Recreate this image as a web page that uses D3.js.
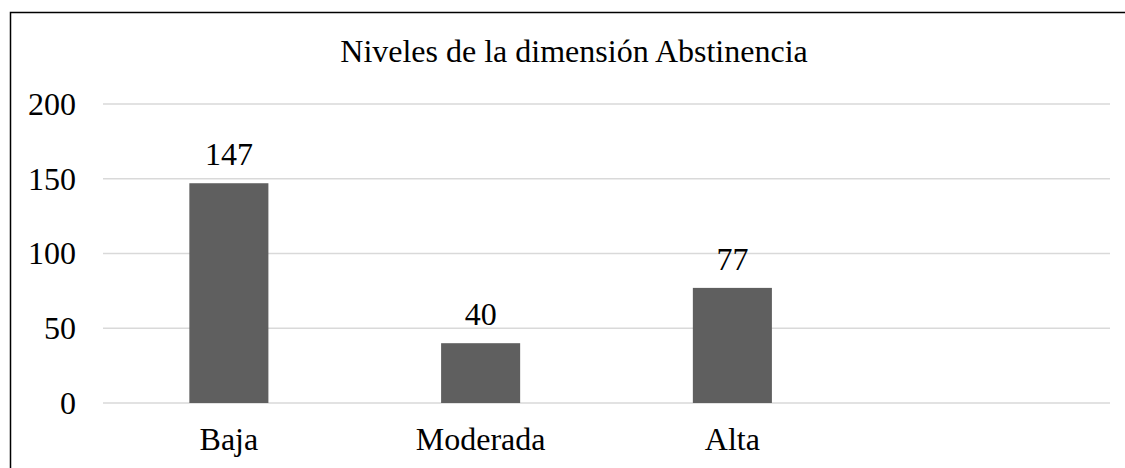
<!DOCTYPE html>
<html>
<head>
<meta charset="utf-8">
<script src="https://cdn.jsdelivr.net/npm/d3@7"></script>
<style>
  body { margin: 0; background: #fff; }
  svg text { font-family: "Liberation Serif", "Times New Roman", Times, serif; }
</style>
</head>
<body>
<svg width="1125" height="468"></svg>
<script>
const categories = ["Baja", "Moderada", "Alta", ""];
const values = [147, 40, 77, null];
const yTicks = [0, 50, 100, 150, 200];
const title = "Niveles de la dimensión Abstinencia";

const svg = d3.select("svg");
const width = +svg.attr("width");
const height = +svg.attr("height");
const fontSize = 32;

const margin = { top: 104, right: 15, bottom: 65, left: 103 };

// chart frame, runs off the right and bottom edges
svg.append("rect")
	.attr("x", 10.5)
	.attr("y", 12.5)
	.attr("width", width + 20)
	.attr("height", height + 20)
	.attr("fill", "none")
	.attr("stroke", "#000")
	.attr("stroke-width", 1.5);

const x = d3.scaleBand()
	.domain(categories.map((d, i) => i))
	.range([margin.left, width - margin.right])
	.paddingInner(0.686)
	.paddingOuter(0.343);

const y = d3.scaleLinear()
	.domain([0, 200])
	.range([height - margin.bottom, margin.top]);

svg.append("text")
	.attr("x", 574)
	.attr("y", 62)
	.attr("text-anchor", "middle")
	.attr("font-size", fontSize)
	.attr("fill", "#000")
	.text(title);

// gridlines
svg.append("g")
	.selectAll("line")
	.data(yTicks)
	.join("line")
		.attr("x1", margin.left)
		.attr("x2", width - margin.right)
		.attr("y1", d => y(d))
		.attr("y2", d => y(d))
		.attr("stroke", "#d9d9d9")
		.attr("stroke-width", 1.5);

const yAxis = svg.append("g")
	.attr("transform", `translate(${margin.left - 27}, 0)`)
	.call(d3.axisLeft(y).tickValues(yTicks).tickSize(0).tickPadding(0));
yAxis.select(".domain").remove();
yAxis.attr("font-size", fontSize).attr("font-family", null);
yAxis.selectAll("text").attr("fill", "#000");

const barData = values.map((v, i) => ({ v, i })).filter(d => d.v != null);

svg.append("g")
	.selectAll("rect")
	.data(barData)
	.join("rect")
		.attr("x", d => x(d.i))
		.attr("width", x.bandwidth())
		.attr("y", d => y(d.v))
		.attr("height", d => y(0) - y(d.v))
		.attr("fill", "#5f5f5f");

svg.append("g")
	.selectAll("text")
	.data(barData)
	.join("text")
		.attr("x", d => x(d.i) + x.bandwidth() / 2)
		.attr("y", d => y(d.v) - 18)
		.attr("text-anchor", "middle")
		.attr("font-size", fontSize)
		.attr("fill", "#000")
		.text(d => d.v);

const xAxis = svg.append("g")
	.attr("transform", `translate(0, ${y(0)})`)
	.call(d3.axisBottom(x).tickFormat(i => categories[i]).tickSize(0).tickPadding(24));
xAxis.select(".domain").remove();
xAxis.attr("font-size", fontSize).attr("font-family", null);
xAxis.selectAll("text").attr("fill", "#000");
</script>
</body>
</html>
